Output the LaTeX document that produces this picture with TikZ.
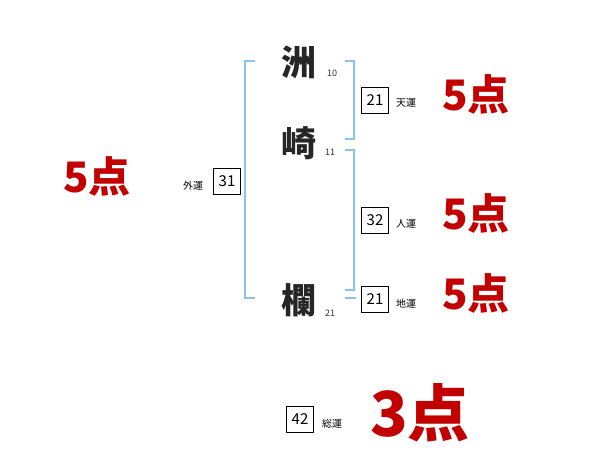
\documentclass[tikz,border=0pt]{standalone}
\usepackage{fontspec}
\newfontfamily\jp{Noto Sans CJK JP}
\definecolor{brk}{RGB}{140,195,230}
\definecolor{pt}{RGB}{195,0,0}
\tikzset{
  brack/.style={draw=brk, line width=1.3pt},
  kanji/.style={font=\jp\bfseries\fontsize{35}{35}\selectfont, inner sep=0pt, text=black!85},
  stroke/.style={font=\jp\fontsize{9}{9}\selectfont, inner sep=0pt, text=black!80},
  numbox/.style={draw, line width=0.6pt, minimum width=27pt, minimum height=26pt, inner sep=0pt, font=\jp\fontsize{15}{15}\selectfont},
  lbl/.style={font=\jp\fontsize{10}{10}\selectfont, inner sep=0pt},
  score/.style={font=\jp\bfseries\fontsize{42}{42}\selectfont, text=pt, inner sep=0pt},
  bigscore/.style={font=\jp\bfseries\fontsize{62}{62}\selectfont, text=pt, inner sep=0pt}
}
\begin{document}
\begin{tikzpicture}[x=1pt,y=-1pt]
\useasboundingbox (0,0) rectangle (600,470);
% brackets
\draw[brack] (255,61) -- (245,61) -- (245,298) -- (255,298);
\draw[brack] (345,61) -- (354,61) -- (354,139) -- (345,139);
\draw[brack] (345,150) -- (354,150) -- (354,290) -- (345,290);
\draw[brack] (345,298) -- (356,298);
% name characters
\node[kanji] (c1) at (299,62) {洲};
\node[kanji] (c2) at (299,143) {崎};
\node[kanji] (c3) at (299,300) {欄};
\node[stroke] (s1) at (332,73) {10};
\node[stroke] (s2) at (330,152) {11};
\node[stroke] (s3) at (330,313) {21};
% boxes
\node[numbox] (gai) at (227,181) {31};
\node[lbl] (gail) at (193,186) {外運};
\node[numbox] (ten) at (375,100) {21};
\node[lbl] (tenl) at (406,103) {天運};
\node[numbox] (jin) at (375,220) {32};
\node[lbl] (jinl) at (406,224) {人運};
\node[numbox] (chi) at (375,299) {21};
\node[lbl] (chil) at (406,304) {地運};
\node[numbox] (sou) at (300,419) {42};
\node[lbl] (soul) at (332,424) {総運};
% scores
\node[score] (p0) at (97,176) {5点};
\node[score] (p1) at (476,94) {5点};
\node[score] (p2) at (476,213) {5点};
\node[score] (p3) at (476,293) {5点};
\node[bigscore] (p4) at (420,413) {3点};
\end{tikzpicture}
\end{document}
